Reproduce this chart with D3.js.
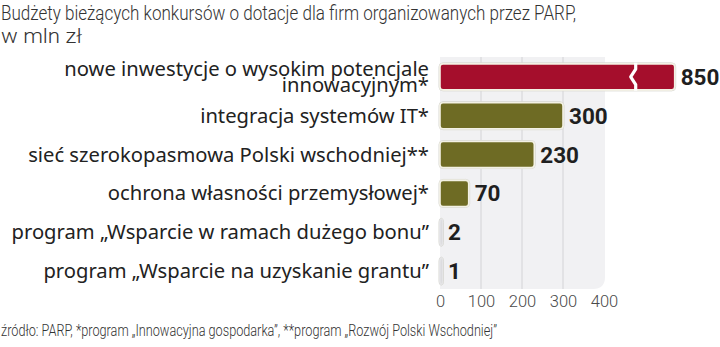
<!DOCTYPE html>
<html>
<head>
<meta charset="utf-8">
<script src="https://cdn.jsdelivr.net/npm/d3@7"></script>
<style>
  html, body { margin: 0; padding: 0; background: #ffffff; }
  svg { display: block; }
</style>
</head>
<body>
<svg id="chart" width="720" height="347"></svg>
<script>
// Budgets of current PARP grant competitions, PLN million
const categories = [
  ["nowe inwestycje o wysokim potencjale", "innowacyjnym*"],
  ["integracja systemów IT*"],
  ["sieć szerokopasmowa Polski wschodniej**"],
  ["ochrona własności przemysłowej*"],
  ["program „Wsparcie w ramach dużego bonu”"],
  ["program „Wsparcie na uzyskanie grantu”"]
];
const values = [850, 300, 230, 70, 2, 1];
const tickValues = [0, 100, 200, 300, 400];
const titleLines = ["Budżety bieżących konkursów o dotacje dla firm organizowanych przez PARP,", "w mln zł"];
const sourceNote = "źródło: PARP, *program „Innowacyjna gospodarka”, **program „Rozwój Polski Wschodniej”";

const svg = d3.select("#chart");

const plotLeft = 440, plotRight = 604;
const x = d3.scaleLinear().domain([0, 400]).range([plotLeft, plotRight]);

// bars longer than the axis are drawn on a broken scale: true scale up to the
// break, then the remaining part compressed into a short tail
const breakValue = 470;
const tailWidth = 42;
const xBroken = d3.scaleLinear()
  .domain([0, breakValue, d3.max(values)])
  .range([x(0), x(breakValue), x(breakValue) + tailWidth]);
const barEnd = v => v > 400 ? xBroken(v) : x(v);

const y = d3.scaleBand()
  .domain(d3.range(categories.length))
  .range([58, 290])
  .paddingInner(0.33)
  .paddingOuter(0.15);

// background panel behind the bars, rounded at the bottom right
const panelTop = 57, panelBottom = 289, r = 12;
svg.append("path")
  .attr("d", `M${plotLeft},${panelTop} H${plotRight + 1} V${panelBottom - r}
              Q${plotRight + 1},${panelBottom} ${plotRight + 1 - r},${panelBottom}
              H${plotLeft} Z`)
  .attr("fill", "#f1f1f3");

// vertical gridlines
svg.append("g")
  .selectAll("line")
  .data([100, 200, 300])
  .join("line")
  .attr("x1", d => x(d)).attr("x2", d => x(d))
  .attr("y1", panelTop).attr("y2", panelBottom)
  .attr("stroke", "#d3d3d6")
  .attr("stroke-width", 1);

// axis labels
const axis = d3.axisBottom(x).tickValues(tickValues).tickSize(0).tickPadding(0);
const axisG = svg.append("g")
  .attr("transform", `translate(0, 295)`)
  .call(axis);
axisG.select(".domain").remove();
axisG.selectAll("text")
  .attr("dy", "0.71em")
  .attr("font-family", "Roboto, sans-serif")
  .attr("font-weight", 300)
  .attr("font-size", 16.5)
  .attr("fill", "#4a4a4a");

const colors = ["#a50e2c", "#6e6b24", "#6e6b24", "#6e6b24", "#d9d9dc", "#d9d9dc"];

// bars
const bars = svg.append("g");
values.forEach((v, i) => {
  const x0 = x(0);
  const w = Math.max(barEnd(v) - x0, 2.5);
  const by = y(i), bh = y.bandwidth();
  // soft outer edge
  bars.append("rect")
    .attr("x", x0 - 1).attr("y", by - 1)
    .attr("width", w + 2).attr("height", bh + 2)
    .attr("rx", 4)
    .attr("fill", "none")
    .attr("stroke", "#d8d8d2")
    .attr("stroke-width", 1);
  bars.append("rect")
    .attr("x", x0).attr("y", by)
    .attr("width", w).attr("height", bh)
    .attr("rx", 3)
    .attr("fill", colors[i])
    .attr("stroke", v > 5 ? "#f3f1e4" : "#e4e4e6")
    .attr("stroke-width", 1.6);
  if (v > 400) {
    // break mark on the compressed bar
    const bx = xBroken(breakValue);
    const cy = by + bh / 2;
    bars.append("path")
      .attr("d", `M${bx + 3},${by - 1} L${bx + 3},${by + bh * 0.2}
                  L${bx - 2},${cy} L${bx + 3},${by + bh * 0.8} L${bx + 3},${by + bh + 1}`)
      .attr("fill", "none")
      .attr("stroke", "#ffffff")
      .attr("stroke-width", 3.2)
      .attr("stroke-linejoin", "round");
  }
});

// value labels
svg.append("g")
  .selectAll("text")
  .data(values)
  .join("text")
  .attr("x", d => Math.max(barEnd(d), x(0) + 2) + 6)
  .attr("y", (d, i) => y(i) + y.bandwidth() / 2 + 8)
  .attr("font-family", "Roboto, sans-serif")
  .attr("font-weight", 700)
  .attr("font-size", 22.5)
  .attr("fill", "#1f1f1f")
  .text(d => d);

// category labels; a wrapped label is one text element with a tspan per line
const labelG = svg.append("g")
  .attr("font-family", "'Noto Sans', sans-serif")
  .attr("font-size", 20.2)
  .attr("fill", "#222222")
  .attr("text-anchor", "end");
const lineHeight = 16.5;
categories.forEach((lines, i) => {
  const cy = y(i) + y.bandwidth() / 2;
  const first = cy + 7 - (lines.length - 1) * lineHeight / 2;
  const t = labelG.append("text")
    .attr("x", 429)
    .attr("y", first);
  lines.forEach((line, j) => {
    t.append("tspan")
      .attr("x", 429)
      .attr("dy", j === 0 ? 0 : lineHeight)
      .text(line);
  });
});

// title
const title = svg.append("g")
  .attr("font-family", "Roboto, sans-serif")
  .attr("font-weight", 300)
  .attr("font-size", 21)
  .attr("fill", "#333333");
title.append("text").attr("x", 1).attr("y", 20)
  .attr("textLength", 575).attr("lengthAdjust", "spacingAndGlyphs")
  .text(titleLines[0]);
title.append("text").attr("x", 1).attr("y", 43)
  .attr("textLength", 81).attr("lengthAdjust", "spacingAndGlyphs")
  .text(titleLines[1]);

// source note
svg.append("text")
  .attr("x", 1).attr("y", 336)
  .attr("font-family", "Roboto, sans-serif")
  .attr("font-weight", 300)
  .attr("font-size", 16)
  .attr("fill", "#333333")
  .attr("textLength", 496).attr("lengthAdjust", "spacingAndGlyphs")
  .text(sourceNote);
</script>
</body>
</html>
